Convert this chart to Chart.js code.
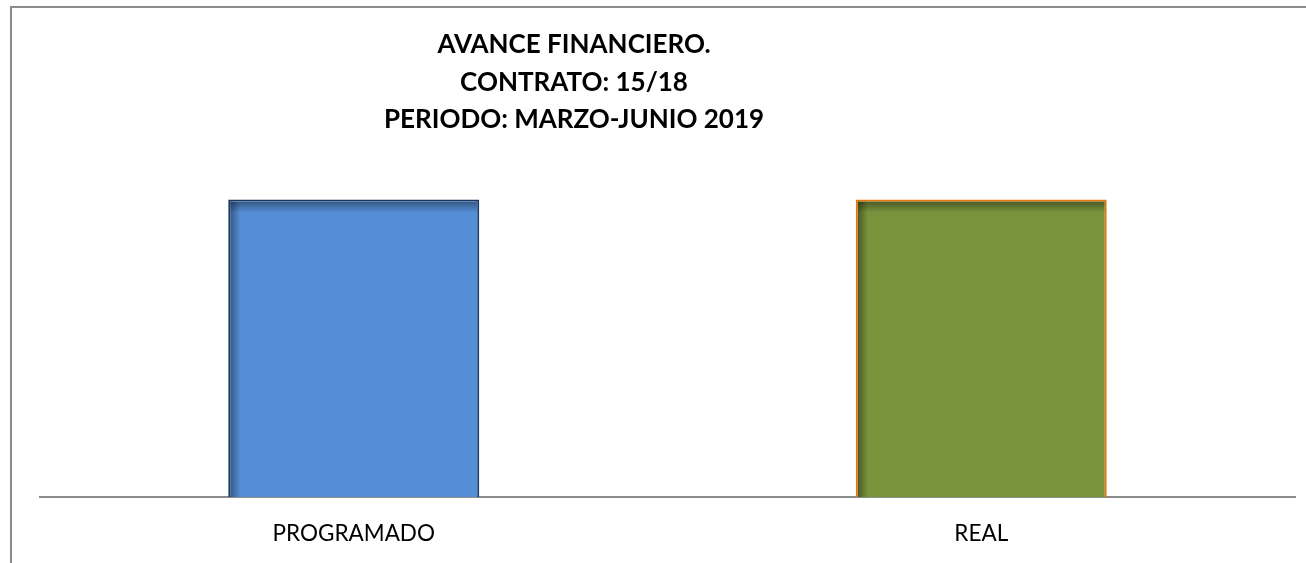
<!DOCTYPE html>
<html>
<head>
<meta charset="utf-8">
<title>Avance financiero</title>
<script src="https://cdn.jsdelivr.net/npm/chart.js@4/dist/chart.umd.min.js"></script>
<style>
  html, body { margin: 0; padding: 0; background: #fff; overflow: hidden; }
  #frame {
    position: absolute; left: 10px; top: 6px;
    width: 1294px; height: 555px;
    border-left: 2px solid #8c8c8c; border-top: 2px solid #8c8c8c;
  }
</style>
</head>
<body>
<div id="frame"><canvas id="avanceChart"></canvas></div>
<script>
// chart data
const categories = ['PROGRAMADO', 'REAL'];
const avanceValues = [100, 100];
const titleLines = ['AVANCE FINANCIERO.', 'CONTRATO: 15/18', 'PERIODO: MARZO-JUNIO 2019'];
const yTicks = [0, 120];

const fontFamily = 'Lato, "Open Sans", sans-serif';

// title drawn off-centre like the original sheet
const titlePlugin = {
    id: 'offsetTitle',
    afterDraw(chart) {
        const ctx = chart.ctx;
        ctx.save();
        ctx.font = 'bold 26px ' + fontFamily;
        ctx.fillStyle = '#000';
        ctx.textAlign = 'center';
        ctx.textBaseline = 'alphabetic';
        titleLines.forEach((line, i) => {
            ctx.fillText(line, 562, 45 + i * 37.5);
        });
        ctx.restore();
    }
};

// soft inner shadow on top and left edge of each bar
const innerShadow = {
    id: 'innerShadow',
    afterDatasetsDraw(chart) {
        const ctx = chart.ctx;
        chart.getDatasetMeta(0).data.forEach((bar) => {
            const left = bar.x - bar.width / 2 + 2;
            const right = bar.x + bar.width / 2 - 2;
            const top = bar.y + 2;
            const bottom = bar.base;
            ctx.save();
            ctx.beginPath();
            ctx.rect(left, top, right - left, bottom - top);
            ctx.clip();
            let g = ctx.createLinearGradient(0, top, 0, top + 11);
            g.addColorStop(0, 'rgba(0,0,0,0.38)');
            g.addColorStop(1, 'rgba(0,0,0,0)');
            ctx.fillStyle = g;
            ctx.fillRect(left, top, right - left, 11);
            g = ctx.createLinearGradient(left, 0, left + 10, 0);
            g.addColorStop(0, 'rgba(0,0,0,0.38)');
            g.addColorStop(1, 'rgba(0,0,0,0)');
            ctx.fillStyle = g;
            ctx.fillRect(left, top, 10, bottom - top);
            ctx.restore();
        });
    }
};

const config = {
    type: 'bar',
    data: {
        labels: categories,
        datasets: [{
            label: 'Avance financiero',
            data: avanceValues,
            backgroundColor: ['#558ed5', '#77933c'],
            borderColor: ['#17375e', '#e8760f'],
            borderWidth: 2,
            barPercentage: 0.4,
            categoryPercentage: 1
        }]
    },
    options: {
        responsive: true,
        maintainAspectRatio: false,
        animation: false,
        layout: {
            padding: { top: 132, right: 11, bottom: 18, left: 28 }
        },
        plugins: {
            legend: { display: false },
            title: { display: false },
            tooltip: { enabled: false }
        },
        scales: {
            x: {
                grid: { display: false, drawTicks: false },
                border: { display: true, color: '#8c8c8c', width: 2 },
                ticks: {
                    color: '#000',
                    padding: 23,
                    font: { family: fontFamily, size: 22.5 }
                },
                afterFit(scale) {
                    scale.height = 48;
                }
            },
            y: {
                display: false,
                min: yTicks[0],
                max: yTicks[1]
            }
        }
    },
    plugins: [innerShadow, titlePlugin]
};

new Chart(document.getElementById('avanceChart'), config);
</script>
</body>
</html>
